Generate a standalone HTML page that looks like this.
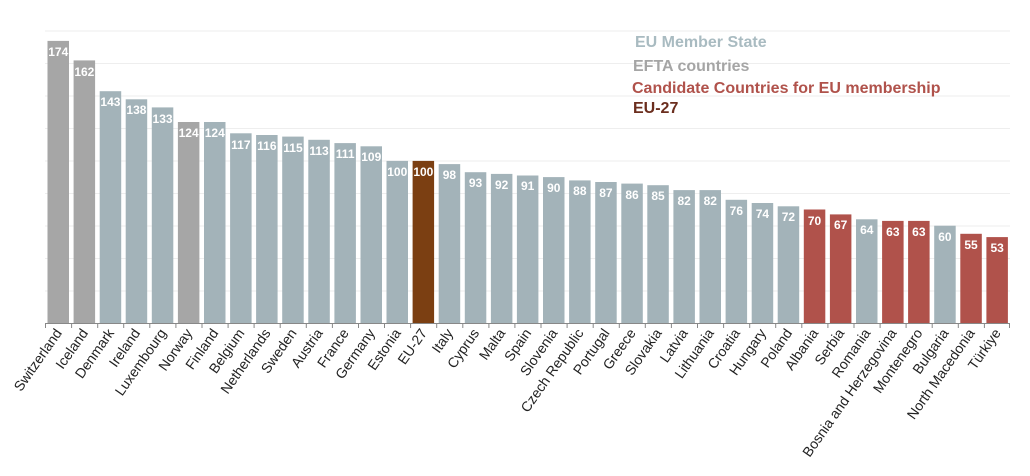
<!DOCTYPE html>
<html><head><meta charset="utf-8"><style>
html,body{margin:0;padding:0;background:#fff;}
svg{display:block;font-family:"Liberation Sans",sans-serif;}
.v{fill:#fff;font-size:12px;font-weight:bold;text-anchor:middle;}
.l{fill:#222;font-size:14px;text-anchor:end;}
.m{fill:#a3b3b9}.e{fill:#a6a6a6}.c{fill:#b0524b}.x{fill:#7b3f12}
</style></head><body>
<svg width="1030" height="476" viewBox="0 0 1030 476">
<g stroke="#eeeeee" stroke-width="1">
<line x1="45" x2="1010" y1="31" y2="31"/><line x1="45" x2="1010" y1="63.5" y2="63.5"/><line x1="45" x2="1010" y1="96" y2="96"/><line x1="45" x2="1010" y1="128.5" y2="128.5"/><line x1="45" x2="1010" y1="161" y2="161"/><line x1="45" x2="1010" y1="193.5" y2="193.5"/><line x1="45" x2="1010" y1="226" y2="226"/><line x1="45" x2="1010" y1="258.5" y2="258.5"/><line x1="45" x2="1010" y1="291" y2="291"/>
</g>
<g font-weight="bold" font-size="16">
<text x="635" y="47" fill="#a9bbc1">EU Member State</text>
<text x="633" y="71" fill="#a5a5a5">EFTA countries</text>
<text x="632" y="93" fill="#b0524b">Candidate Countries for EU membership</text>
<text x="633" y="113" fill="#6b2e1e">EU-27</text>
</g>
<g transform="translate(47.5)"><rect class="e" y="40.9" width="21.5" height="282.1"/><text class="v" x="10.75" y="56">174</text><text class="l" transform="translate(15,333) rotate(-55)">Switzerland</text></g>
<g transform="translate(73.6)"><rect class="e" y="60.4" width="21.5" height="262.6"/><text class="v" x="10.75" y="76">162</text><text class="l" transform="translate(15,333) rotate(-55)">Iceland</text></g>
<g transform="translate(99.7)"><rect class="m" y="91.2" width="21.5" height="231.8"/><text class="v" x="10.75" y="106">143</text><text class="l" transform="translate(15,333) rotate(-55)">Denmark</text></g>
<g transform="translate(125.7)"><rect class="m" y="99.3" width="21.5" height="223.7"/><text class="v" x="10.75" y="114">138</text><text class="l" transform="translate(15,333) rotate(-55)">Ireland</text></g>
<g transform="translate(151.8)"><rect class="m" y="107.4" width="21.5" height="215.6"/><text class="v" x="10.75" y="123">133</text><text class="l" transform="translate(15,333) rotate(-55)">Luxembourg</text></g>
<g transform="translate(177.9)"><rect class="e" y="122" width="21.5" height="201"/><text class="v" x="10.75" y="137">124</text><text class="l" transform="translate(15,333) rotate(-55)">Norway</text></g>
<g transform="translate(204)"><rect class="m" y="122" width="21.5" height="201"/><text class="v" x="10.75" y="137">124</text><text class="l" transform="translate(15,333) rotate(-55)">Finland</text></g>
<g transform="translate(230.1)"><rect class="m" y="133.3" width="21.5" height="189.7"/><text class="v" x="10.75" y="149">117</text><text class="l" transform="translate(15,333) rotate(-55)">Belgium</text></g>
<g transform="translate(256.1)"><rect class="m" y="135" width="21.5" height="188"/><text class="v" x="10.75" y="150">116</text><text class="l" transform="translate(15,333) rotate(-55)">Netherlands</text></g>
<g transform="translate(282.2)"><rect class="m" y="136.6" width="21.5" height="186.4"/><text class="v" x="10.75" y="152">115</text><text class="l" transform="translate(15,333) rotate(-55)">Sweden</text></g>
<g transform="translate(308.3)"><rect class="m" y="139.8" width="21.5" height="183.2"/><text class="v" x="10.75" y="155">113</text><text class="l" transform="translate(15,333) rotate(-55)">Austria</text></g>
<g transform="translate(334.4)"><rect class="m" y="143.1" width="21.5" height="179.9"/><text class="v" x="10.75" y="158">111</text><text class="l" transform="translate(15,333) rotate(-55)">France</text></g>
<g transform="translate(360.5)"><rect class="m" y="146.3" width="21.5" height="176.7"/><text class="v" x="10.75" y="161">109</text><text class="l" transform="translate(15,333) rotate(-55)">Germany</text></g>
<g transform="translate(386.5)"><rect class="m" y="160.9" width="21.5" height="162.1"/><text class="v" x="10.75" y="176">100</text><text class="l" transform="translate(15,333) rotate(-55)">Estonia</text></g>
<g transform="translate(412.6)"><rect class="x" y="160.9" width="21.5" height="162.1"/><text class="v" x="10.75" y="176">100</text><text class="l" transform="translate(15,333) rotate(-55)">EU-27</text></g>
<g transform="translate(438.7)"><rect class="m" y="164.1" width="21.5" height="158.9"/><text class="v" x="10.75" y="179">98</text><text class="l" transform="translate(15,333) rotate(-55)">Italy</text></g>
<g transform="translate(464.8)"><rect class="m" y="172.2" width="21.5" height="150.8"/><text class="v" x="10.75" y="187">93</text><text class="l" transform="translate(15,333) rotate(-55)">Cyprus</text></g>
<g transform="translate(490.9)"><rect class="m" y="173.9" width="21.5" height="149.1"/><text class="v" x="10.75" y="189">92</text><text class="l" transform="translate(15,333) rotate(-55)">Malta</text></g>
<g transform="translate(516.9)"><rect class="m" y="175.5" width="21.5" height="147.5"/><text class="v" x="10.75" y="190">91</text><text class="l" transform="translate(15,333) rotate(-55)">Spain</text></g>
<g transform="translate(543)"><rect class="m" y="177.1" width="21.5" height="145.9"/><text class="v" x="10.75" y="192">90</text><text class="l" transform="translate(15,333) rotate(-55)">Slovenia</text></g>
<g transform="translate(569.1)"><rect class="m" y="180.4" width="21.5" height="142.6"/><text class="v" x="10.75" y="195">88</text><text class="l" transform="translate(15,333) rotate(-55)">Czech Republic</text></g>
<g transform="translate(595.2)"><rect class="m" y="182" width="21.5" height="141"/><text class="v" x="10.75" y="197">87</text><text class="l" transform="translate(15,333) rotate(-55)">Portugal</text></g>
<g transform="translate(621.3)"><rect class="m" y="183.6" width="21.5" height="139.4"/><text class="v" x="10.75" y="199">86</text><text class="l" transform="translate(15,333) rotate(-55)">Greece</text></g>
<g transform="translate(647.3)"><rect class="m" y="185.2" width="21.5" height="137.8"/><text class="v" x="10.75" y="200">85</text><text class="l" transform="translate(15,333) rotate(-55)">Slovakia</text></g>
<g transform="translate(673.4)"><rect class="m" y="190.1" width="21.5" height="132.9"/><text class="v" x="10.75" y="205">82</text><text class="l" transform="translate(15,333) rotate(-55)">Latvia</text></g>
<g transform="translate(699.5)"><rect class="m" y="190.1" width="21.5" height="132.9"/><text class="v" x="10.75" y="205">82</text><text class="l" transform="translate(15,333) rotate(-55)">Lithuania</text></g>
<g transform="translate(725.6)"><rect class="m" y="199.8" width="21.5" height="123.2"/><text class="v" x="10.75" y="215">76</text><text class="l" transform="translate(15,333) rotate(-55)">Croatia</text></g>
<g transform="translate(751.7)"><rect class="m" y="203" width="21.5" height="120"/><text class="v" x="10.75" y="218">74</text><text class="l" transform="translate(15,333) rotate(-55)">Hungary</text></g>
<g transform="translate(777.7)"><rect class="m" y="206.3" width="21.5" height="116.7"/><text class="v" x="10.75" y="221">72</text><text class="l" transform="translate(15,333) rotate(-55)">Poland</text></g>
<g transform="translate(803.8)"><rect class="c" y="209.5" width="21.5" height="113.5"/><text class="v" x="10.75" y="225">70</text><text class="l" transform="translate(15,333) rotate(-55)">Albania</text></g>
<g transform="translate(829.9)"><rect class="c" y="214.4" width="21.5" height="108.6"/><text class="v" x="10.75" y="229">67</text><text class="l" transform="translate(15,333) rotate(-55)">Serbia</text></g>
<g transform="translate(856)"><rect class="m" y="219.3" width="21.5" height="103.7"/><text class="v" x="10.75" y="234">64</text><text class="l" transform="translate(15,333) rotate(-55)">Romania</text></g>
<g transform="translate(882.1)"><rect class="c" y="220.9" width="21.5" height="102.1"/><text class="v" x="10.75" y="236">63</text><text class="l" transform="translate(15,333) rotate(-55)">Bosnia and Herzegovina</text></g>
<g transform="translate(908.1)"><rect class="c" y="220.9" width="21.5" height="102.1"/><text class="v" x="10.75" y="236">63</text><text class="l" transform="translate(15,333) rotate(-55)">Montenegro</text></g>
<g transform="translate(934.2)"><rect class="m" y="225.7" width="21.5" height="97.3"/><text class="v" x="10.75" y="241">60</text><text class="l" transform="translate(15,333) rotate(-55)">Bulgaria</text></g>
<g transform="translate(960.3)"><rect class="c" y="233.8" width="21.5" height="89.2"/><text class="v" x="10.75" y="249">55</text><text class="l" transform="translate(15,333) rotate(-55)">North Macedonia</text></g>
<g transform="translate(986.4)"><rect class="c" y="237.1" width="21.5" height="85.9"/><text class="v" x="10.75" y="252">53</text><text class="l" transform="translate(15,333) rotate(-55)">Türkiye</text></g>
<g stroke="#888" stroke-width="1">
<line x1="45" x2="1010" y1="323.5" y2="323.5"/>
<path d="M45.5 323v5M71.6 323v5M97.7 323v5M123.7 323v5M149.8 323v5M175.9 323v5M202 323v5M228.1 323v5M254.1 323v5M280.2 323v5M306.3 323v5M332.4 323v5M358.5 323v5M384.5 323v5M410.6 323v5M436.7 323v5M462.8 323v5M488.9 323v5M514.9 323v5M541 323v5M567.1 323v5M593.2 323v5M619.3 323v5M645.3 323v5M671.4 323v5M697.5 323v5M723.6 323v5M749.7 323v5M775.7 323v5M801.8 323v5M827.9 323v5M854 323v5M880.1 323v5M906.1 323v5M932.2 323v5M958.3 323v5M984.4 323v5M1009.5 323v5"/>
</g>
</svg>
</body></html>
